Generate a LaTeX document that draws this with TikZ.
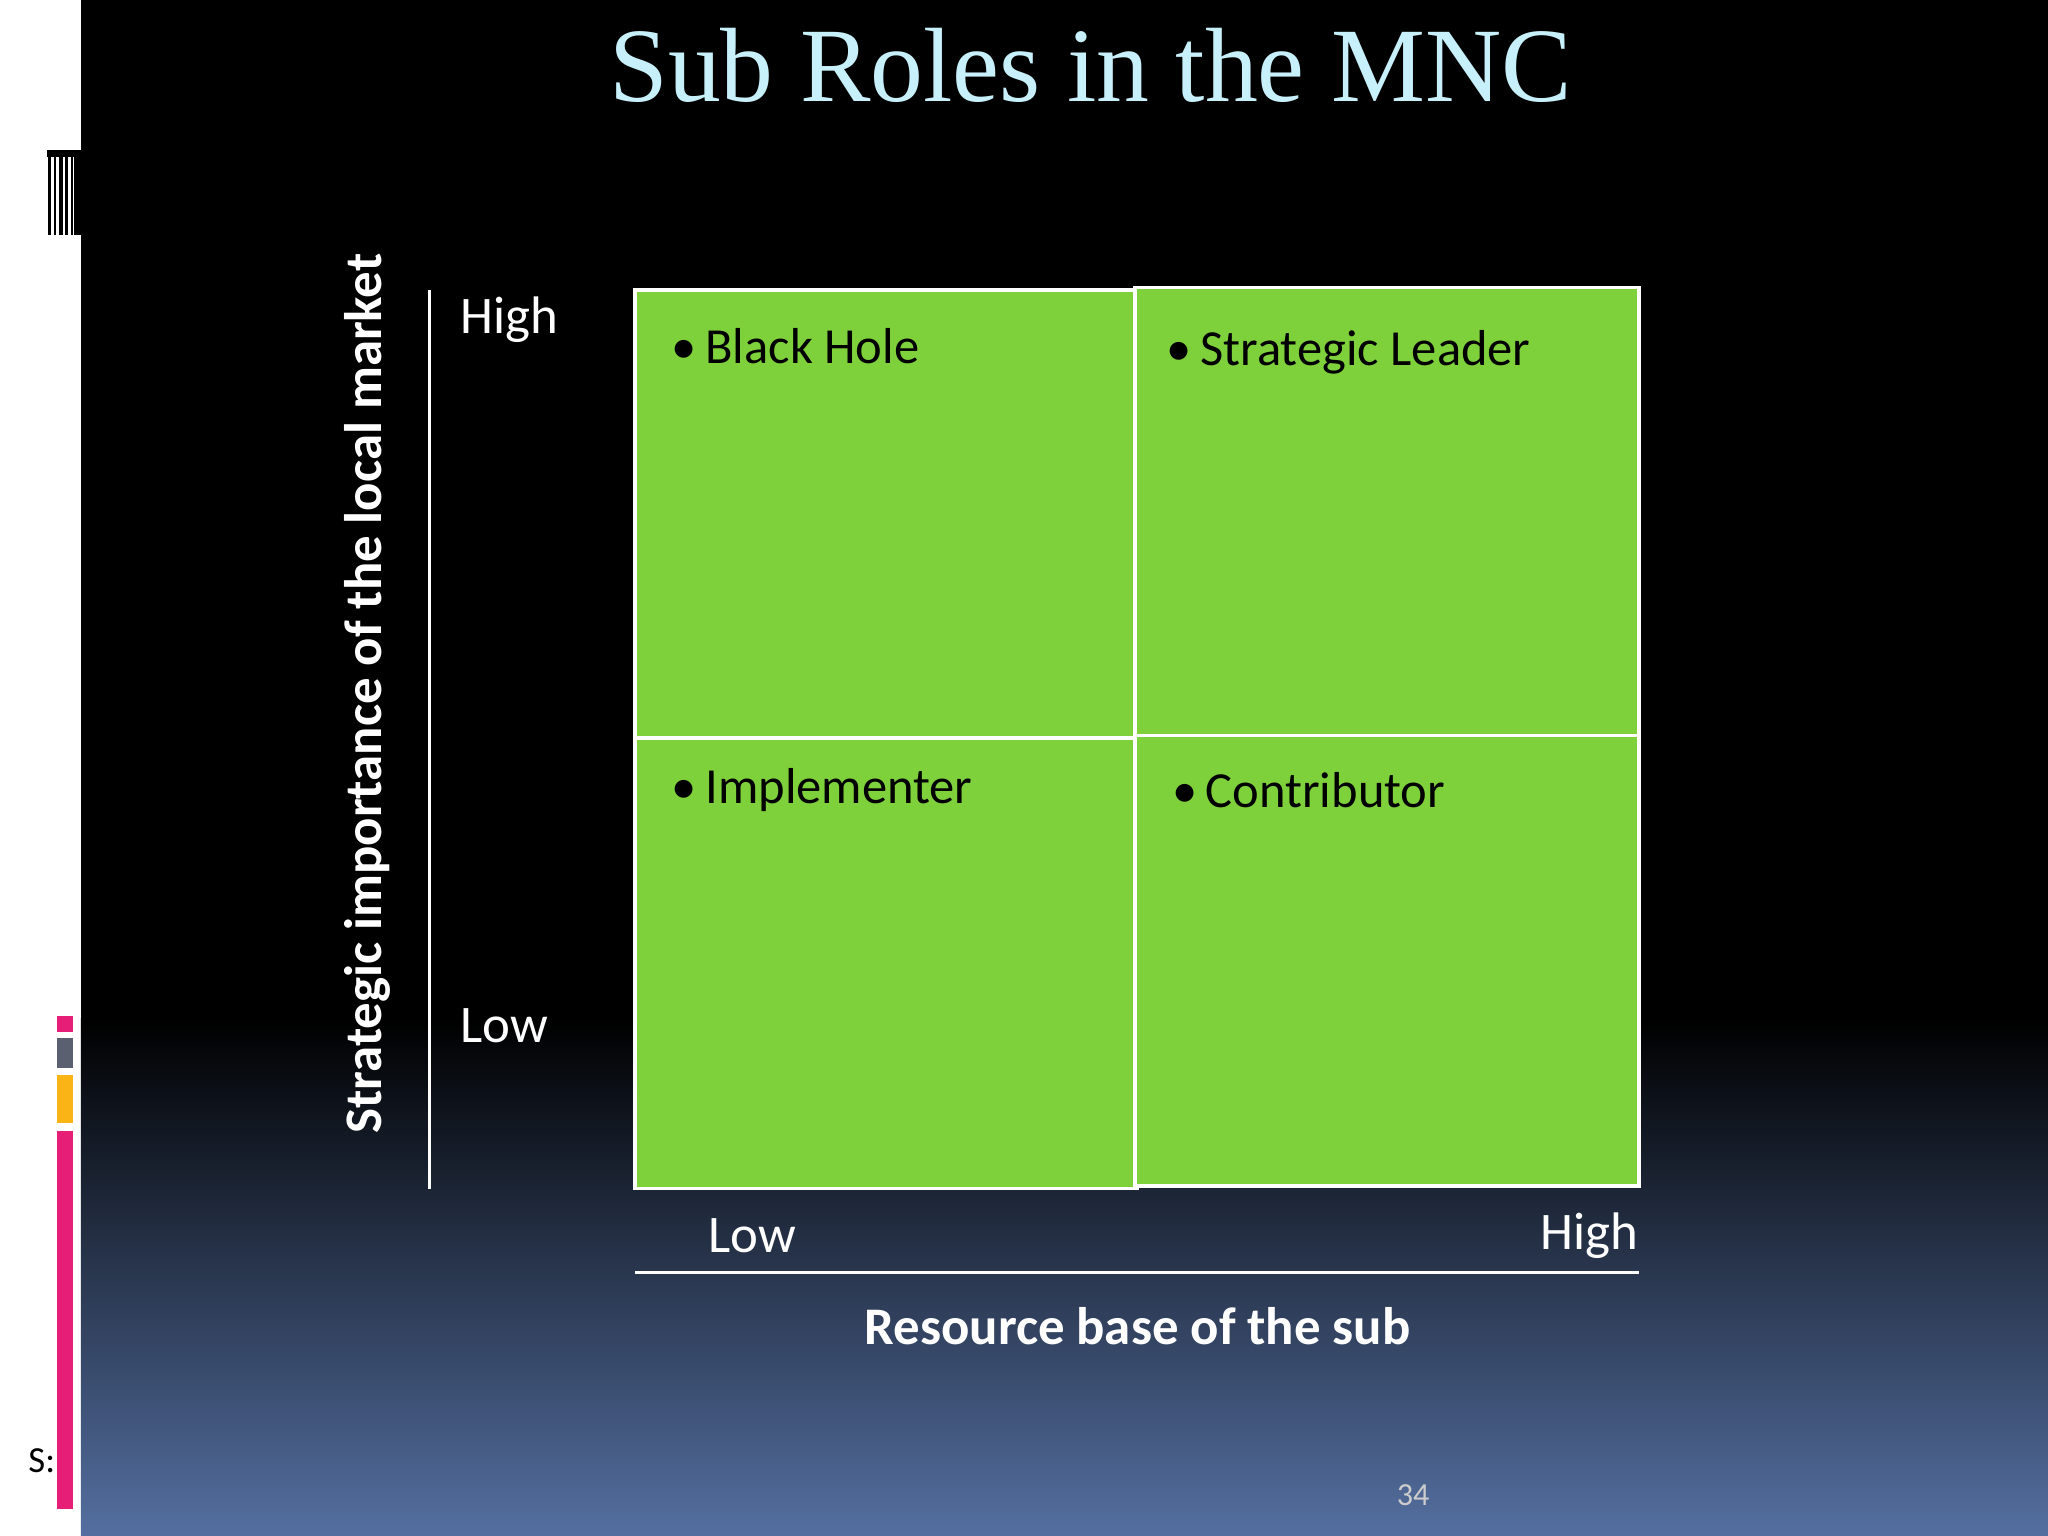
\documentclass[tikz,border=0pt]{standalone}
\usepackage{fontspec}
\setmainfont{Carlito}
\newfontfamily\titlefont{Liberation Serif}
\begin{document}
\begin{tikzpicture}[x=0.01cm,y=-0.01cm,
  quad/.style={draw=white,line width=0.8pt,fill=qgreen},
  lbl/.style={text=white,font=\fontsize{11.5pt}{13pt}\selectfont},
  item/.style={text=black,anchor=west,font=\fontsize{11pt}{13pt}\selectfont}]
\definecolor{qgreen}{HTML}{7FD13B}
\definecolor{bgblue}{HTML}{546FA0}
\definecolor{ttl}{HTML}{C8F0FA}
\definecolor{pinkbar}{HTML}{E61E78}
\definecolor{graybar}{HTML}{5A6070}
\definecolor{orgbar}{HTML}{FBB415}
\useasboundingbox (0,0) rectangle (1568,1176);
\fill[white] (0,0) rectangle (62,1176);
\fill[black] (62,0) rectangle (1568,780);
\shade[top color=black,bottom color=bgblue] (62,780) rectangle (1568,1176);
% decorative stripes
\foreach \xx/\w in {37/2,41/2,45/3,50/2,54/2,57/5}{\fill[black] (\xx,115) rectangle ++(\w,65);}
\fill[black] (36,115) rectangle (62,120);
\fill[pinkbar] (44,778) rectangle (56,790);
\fill[graybar] (44,795) rectangle (56,818);
\fill[orgbar] (44,823) rectangle (56,860);
\fill[pinkbar] (44,866) rectangle (56,1155);
\node[text=black,font=\fontsize{8pt}{9pt}\selectfont] (s) at (32,1118) {S:};
% title
\node[text=ttl,font=\titlefont\fontsize{23pt}{26pt}\selectfont] (title) at (835,50) {Sub Roles in the MNC};
% quadrants
\draw[quad] (486,222) rectangle (869,565);
\draw[quad] (869,220) rectangle (1255,563);
\draw[quad] (486,565) rectangle (871,910);
\draw[quad] (869,563) rectangle (1255,908);
\node[item] (q1) at (502,265) {\textbullet\,Black Hole};
\node[item] (q2) at (881,270) {\textbullet\,Strategic Leader};
\node[item] (q3) at (502,605) {\textbullet\,Implementer};
\node[item] (q4) at (885,605) {\textbullet\,Contributor};
% axes
\coordinate (vt) at (329,222); \coordinate (vb) at (329,910);
\draw[white,line width=0.6pt] (vt) -- (vb);
\coordinate (hl) at (486,974); \coordinate (hr) at (1255,974);
\draw[white,line width=0.6pt] (hl) -- (hr);
\node[lbl] (yh) at (390,245) {High};
\node[lbl] (yl) at (386,785) {Low};
\node[lbl] (xl) at (576,946) {Low};
\node[lbl] (xh) at (1217,946) {High};
\node[text=white,font=\bfseries\fontsize{11.5pt}{13pt}\selectfont,rotate=90] (ylab) at (281,531) {Strategic importance of the local market};
\node[text=white,font=\bfseries\fontsize{11.5pt}{13pt}\selectfont] (xlab) at (871,1015) {Resource base of the sub};
\node[text=gray!40,font=\fontsize{7pt}{8pt}\selectfont] (pg) at (1082,1145) {34};
\end{tikzpicture}
\end{document}
